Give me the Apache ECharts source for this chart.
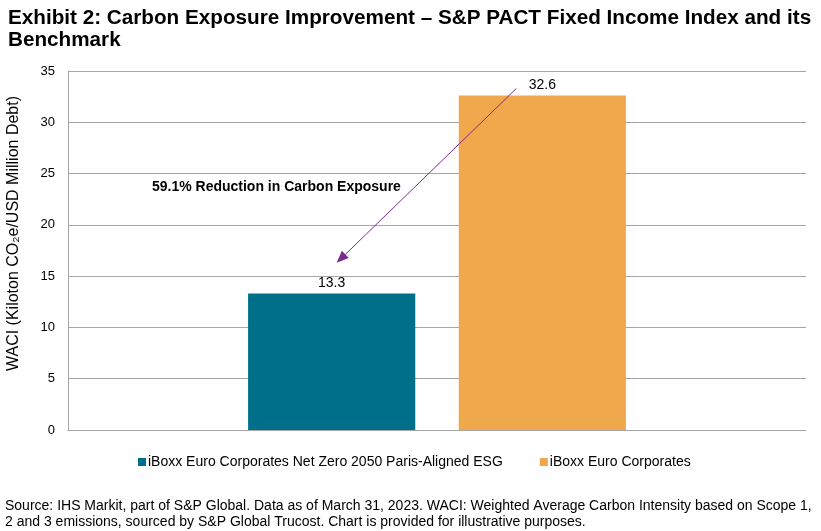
<!DOCTYPE html>
<html>
<head>
<meta charset="utf-8">
<script src="https://cdn.jsdelivr.net/npm/echarts@6/dist/echarts.min.js"></script>
<style>
html,body{margin:0;padding:0;background:#fff;}
#c{width:821px;height:531px;}
</style>
</head>
<body>
<div id="c"></div>
<script>
const titleLines = ['Exhibit 2: Carbon Exposure Improvement \u2013 S&P PACT Fixed Income Index and its', 'Benchmark'];
const seriesNames = ['iBoxx Euro Corporates Net Zero 2050 Paris-Aligned ESG', 'iBoxx Euro Corporates'];
const seriesValues = [13.3, 32.6];
const seriesColors = ['#00708a', '#f0a84c'];
const categories = [''];
const yTicks = {min: 0, max: 35, interval: 5};
const yAxisTitle = 'WACI (Kiloton CO\u2082e/USD Million Debt)';
const annotationText = '59.1% Reduction in Carbon Exposure';
const arrowFrom = 33.3, arrowTo = 16.3, annotationY = 23.7;
const sourceText = 'Source: IHS Markit, part of S&P Global. Data as of March 31, 2023. WACI: Weighted Average Carbon Intensity based on Scope 1,\n2 and 3 emissions, sourced by S&P Global Trucost. Chart is provided for illustrative purposes.';

const sans = "'Liberation Sans', Arial, sans-serif";

const chart = echarts.init(document.getElementById('c'), null, {renderer: 'canvas'});
const series = seriesNames.map((n, i) => ({
  name: n,
  type: 'bar',
  data: [seriesValues[i]],
  itemStyle: {color: seriesColors[i]},
  barGap: '26%',
  barCategoryGap: '48.8%',
  label: {show: true, position: 'top', color: '#000', fontFamily: sans, fontSize: 14, distance: 3},
  animation: false
}));

const sourceGraphic = {
  type: 'text', left: 5, top: 498,
  style: {text: sourceText, font: "14px " + sans, fill: '#000', lineHeight: 16}
};

chart.setOption({
  animation: false,
  textStyle: {fontFamily: sans},
  title: {
    text: titleLines.join('\n'),
    left: 3, top: 2,
    textStyle: {fontFamily: sans, fontSize: 20.7, fontWeight: 'bold', color: '#000', lineHeight: 22}
  },
  grid: {left: 68, right: 15, top: 71, bottom: 101, containLabel: false, outerBoundsMode: 'none'},
  legend: {
    left: 133, top: 450,
    itemWidth: 8, itemHeight: 8, itemGap: 37,
    icon: 'rect',
    textStyle: {fontFamily: sans, fontSize: 14, color: '#000', padding: [0, 0, 0, -3]},
    data: seriesNames
  },
  xAxis: {
    type: 'category', data: categories,
    axisLine: {show: true, lineStyle: {color: '#a6a6a6'}},
    axisTick: {show: false}, axisLabel: {show: false}
  },
  yAxis: {
    type: 'value', min: yTicks.min, max: yTicks.max, interval: yTicks.interval,
    name: yAxisTitle, nameLocation: 'middle', nameGap: 46, nameRotate: 90,
    nameTextStyle: {fontFamily: sans, fontSize: 16, color: '#000', padding: [0, 0, 0, 34]},
    axisLine: {show: true, lineStyle: {color: '#a6a6a6'}},
    axisTick: {show: false},
    axisLabel: {fontFamily: sans, fontSize: 13, color: '#000', margin: 13},
    splitLine: {lineStyle: {color: '#a6a6a6', width: 1}}
  },
  series: series,
  graphic: [sourceGraphic]
});

function drawAnnotation() {
  const l0 = chart.getModel().getSeriesByIndex(0).getData().getItemLayout(0);
  const l1 = chart.getModel().getSeriesByIndex(1).getData().getItemLayout(0);
  const yFrom = chart.convertToPixel({yAxisIndex: 0}, arrowFrom);
  const yTo = chart.convertToPixel({yAxisIndex: 0}, arrowTo);
  const yText = chart.convertToPixel({yAxisIndex: 0}, annotationY);
  const x1 = l1.x + l1.width * 0.345, y1 = yFrom;
  const x2 = l0.x + l0.width * 0.53, y2 = yTo;
  const dx = x2 - x1, dy = y2 - y1, len = Math.sqrt(dx*dx + dy*dy);
  const ux = dx/len, uy = dy/len;
  const hl = 12, hw = 5;
  const bx = x2 - ux*hl, by = y2 - uy*hl;
  const px = -uy, py = ux;
  chart.setOption({
    graphic: [sourceGraphic, {
      type: 'line', z: 100,
      shape: {x1: x1, y1: y1, x2: bx + ux*2, y2: by + uy*2},
      style: {stroke: '#7b2c8f', lineWidth: 1}
    }, {
      type: 'polygon', z: 100,
      shape: {points: [[x2, y2], [bx + px*hw, by + py*hw], [bx - px*hw, by - py*hw]]},
      style: {fill: '#7b2c8f'}
    }, {
      type: 'text', z: 100,
      x: l0.x - l0.width * 0.575, y: yText,
      style: {text: annotationText, font: "bold 14px " + sans, fill: '#000', textVerticalAlign: 'middle'}
    }]
  });
}
drawAnnotation();
</script>
</body>
</html>
